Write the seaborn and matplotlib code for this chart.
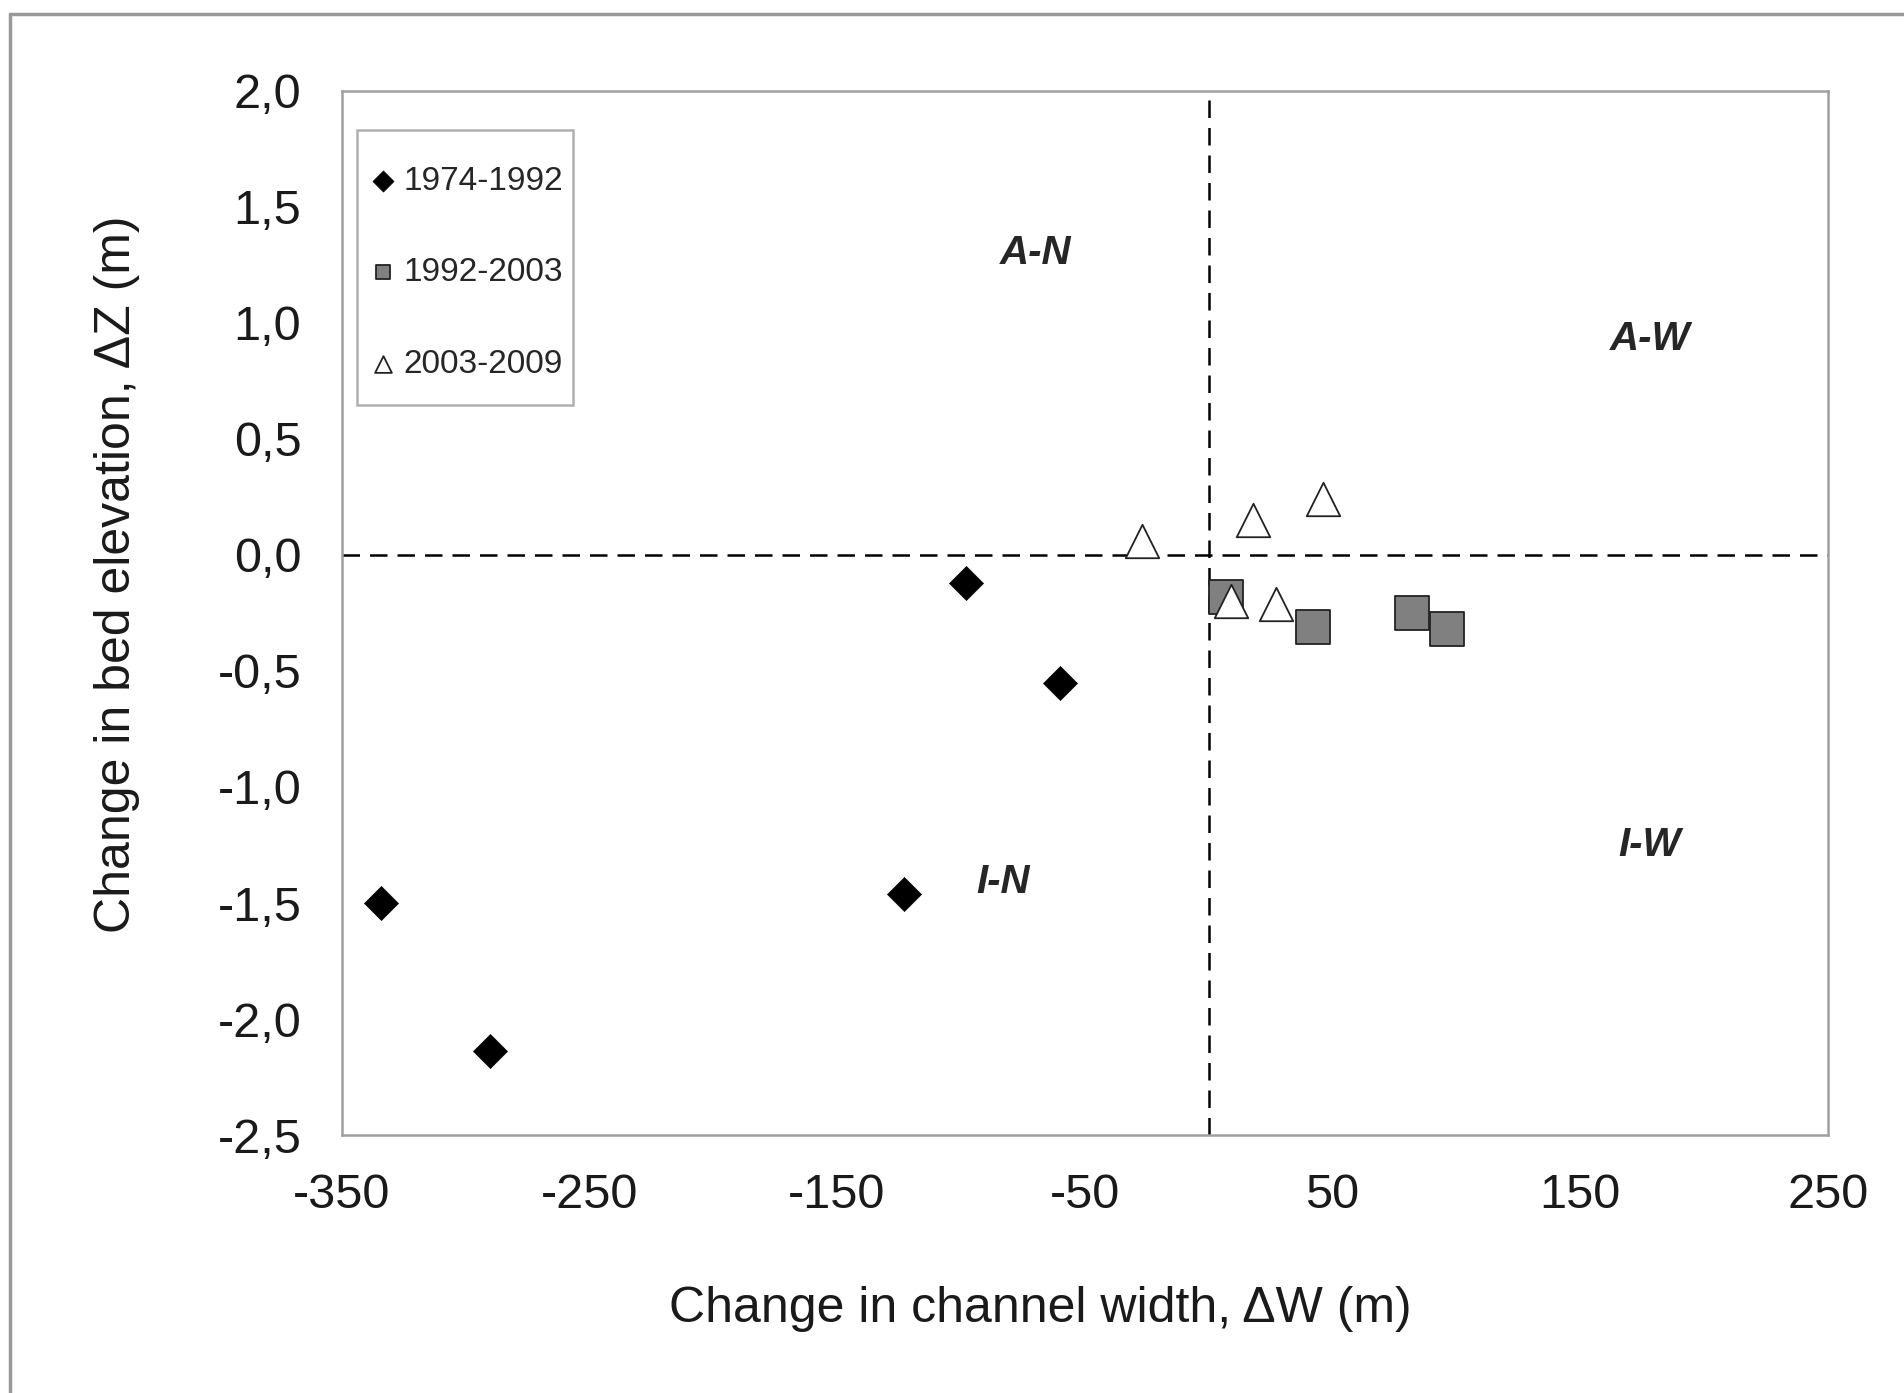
import matplotlib
matplotlib.use("Agg")
import matplotlib.pyplot as plt
from matplotlib.lines import Line2D
from matplotlib.patches import Rectangle
import numpy as np
import pandas as pd
import seaborn as sns

# data
periods = ["1974-1992", "1992-2003", "2003-2009"]
dw_1974 = [-334, -290, -123, -98, -60]
dz_1974 = [-1.50, -2.14, -1.46, -0.12, -0.55]
dw_1992 = [7, 42, 82, 96]
dz_1992 = [-0.18, -0.31, -0.25, -0.32]
dw_2003 = [-27, 18, 46, 9, 27]
dz_2003 = [0.06, 0.15, 0.24, -0.20, -0.21]

quadrant_labels = ["A-N", "A-W", "I-N", "I-W"]
quadrant_x = [-70, 178, -83, 178]
quadrant_y = [1.30, 0.93, -1.41, -1.25]

x_ticks = [-350, -250, -150, -50, 50, 150, 250]
y_ticks = [2.0, 1.5, 1.0, 0.5, 0.0, -0.5, -1.0, -1.5, -2.0, -2.5]

df = pd.concat([
    pd.DataFrame({"dW": dw_1974, "dZ": dz_1974, "period": periods[0]}),
    pd.DataFrame({"dW": dw_1992, "dZ": dz_1992, "period": periods[1]}),
    pd.DataFrame({"dW": dw_2003, "dZ": dz_2003, "period": periods[2]}),
])

sns.set_style("white")
plt.rcParams["font.family"] = ["Liberation Sans", "DejaVu Sans"]

fig = plt.figure(figsize=(19.04, 13.93), dpi=100)
ax = fig.add_axes([0.1794, 0.1852, 0.7807, 0.7495])

styles = {
    "1974-1992": dict(marker="D", s=300, color="black", edgecolor="black", linewidth=0.5),
    "1992-2003": dict(marker="s", s=600, color="#808080", edgecolor="#222222", linewidth=1.3),
    "2003-2009": dict(marker="^", s=580, color="white", edgecolor="#222222", linewidth=1.3),
}
legend_sizes = [115, 100, 145]
for p in periods:
    sub = df[df["period"] == p]
    sns.scatterplot(data=sub, x="dW", y="dZ", ax=ax, label=p, zorder=3, **styles[p])

ax.axhline(0, color="black", lw=1.8, dashes=(7, 4), zorder=2)
ax.axvline(0, color="black", lw=1.8, dashes=(7, 4), zorder=2)

for lab, qx, qy in zip(quadrant_labels, quadrant_x, quadrant_y):
    ax.text(qx, qy, lab, fontsize=29, fontweight="bold", fontstyle="italic",
            ha="center", va="center")

ax.set_xlim(-350, 250)
ax.set_ylim(-2.5, 2.0)
ax.set_xticks(x_ticks)
ax.set_yticks(y_ticks)
ax.set_xticklabels([str(v) for v in x_ticks])
ax.set_yticklabels([f"{v:.1f}".replace(".", ",") for v in y_ticks])
ax.tick_params(axis="both", direction="out", length=12, width=1.5, color="#a0a0a0",
               labelsize=35, labelcolor="#1a1a1a")
ax.tick_params(axis="x", pad=15)
ax.tick_params(axis="y", pad=17)
for sp in ax.spines.values():
    sp.set_color("#a0a0a0")
    sp.set_linewidth(1.8)

ax.set_xlabel("Change in channel width, ΔW (m)", fontsize=36, color="#1a1a1a", va="center")
ax.set_ylabel("Change in bed elevation, ΔZ (m)", fontsize=36, color="#1a1a1a", va="center")
ax.xaxis.set_label_coords(0.47, -0.1667)
ax.yaxis.set_label_coords(-0.1513, 0.537)

# legend box drawn separately so the padding can differ in x and y
ax.add_patch(Rectangle((0.0104, 0.6992), 0.1453, 0.2634, transform=ax.transAxes,
                       facecolor="white", edgecolor="#b0b0b0", lw=1.8, zorder=4))
leg = ax.legend(loc="upper left", bbox_to_anchor=(0.0234, 0.9286), markerscale=1,
                fontsize=24, frameon=False, labelspacing=1.82,
                handlelength=0.4, handletextpad=0.4, borderpad=0, borderaxespad=0)
leg.set_zorder(5)
for h, s in zip(leg.legend_handles, legend_sizes):
    h.set_sizes([s])

# outer frame of the original figure
fig.add_artist(Line2D([10 / 1904, 10 / 1904], [0, 1 - 14 / 1393], transform=fig.transFigure,
                      color="#999999", lw=2.5))
fig.add_artist(Line2D([10 / 1904, 1], [1 - 14 / 1393, 1 - 14 / 1393], transform=fig.transFigure,
                      color="#999999", lw=2.5))

fig.savefig("out.png", dpi=100)
plt.close(fig)
